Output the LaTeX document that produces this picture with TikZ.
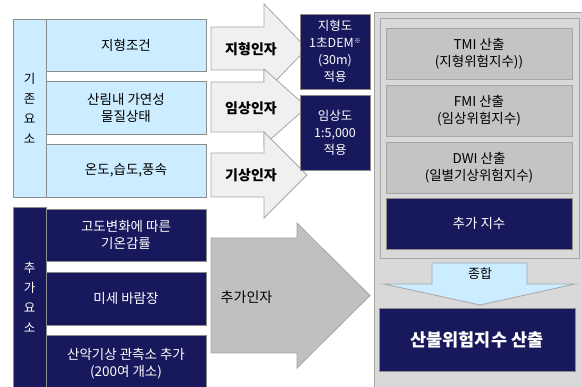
\documentclass[tikz,border=0pt]{standalone}
\usepackage{fontspec}
\setmainfont{Noto Sans CJK KR}
\definecolor{lightblue}{HTML}{CCECFF}
\definecolor{navy}{RGB}{24,24,92}
\definecolor{boxline}{HTML}{8C8C8C}
\definecolor{arrowfill}{HTML}{F0F0F0}
\definecolor{arrowline}{HTML}{A6A6A6}
\definecolor{contfill}{HTML}{D9D9D9}
\definecolor{cellfill}{HTML}{C4C4C4}
\definecolor{bigarrow}{HTML}{C0C0C0}
\begin{document}
\begin{tikzpicture}[x=1pt,y=-1pt,
  base/.style={anchor=north west, inner sep=0pt, outer sep=0pt, align=center, line width=0.8pt},
  lb/.style={base, draw=boxline, fill=lightblue, font=\fontsize{13.5}{17}\selectfont},
  db/.style={base, draw=boxline, fill=navy, text=white, font=\fontsize{13.5}{17}\selectfont},
  sdb/.style={base, draw=boxline, fill=navy, text=white, font=\fontsize{12.5}{17}\selectfont},
  gb/.style={base, draw=arrowline, fill=cellfill, font=\fontsize{13.5}{17}\selectfont},
  vert/.style={align=center, inner sep=0pt, font=\fontsize{12.5}{20}\selectfont},
  blockarrow/.style={draw=arrowline, fill=arrowfill, line width=0.8pt, line join=miter},
  lbl/.style={inner sep=0pt, font=\fontsize{14}{17}\selectfont\bfseries},
]
\useasboundingbox (0,0) rectangle (582,387);
\fill[white] (0,0) rectangle (582,387);

% left column: existing elements
\node[lb, minimum width=33pt, minimum height=178pt] (exist) at (13,19) {};
\node[vert] (existtxt) at (exist.center) {기\\존\\요\\소};
\node[lb, minimum width=160pt, minimum height=52pt] (terrain) at (46,19) {지형조건};
\node[lb, minimum width=160pt, minimum height=53pt] (forest) at (46,81) {산림내 가연성\\물질상태};
\node[lb, minimum width=160pt, minimum height=53pt] (weather) at (46,144) {온도,습도,풍속};

% left column: added elements
\node[db, minimum width=33pt, minimum height=185pt] (added) at (13,207) {};
\node[vert, text=white] (addedtxt) at (13+16.5,297) {추\\가\\요\\소};
\node[db, minimum width=160pt, minimum height=52pt] (lapse) at (46,209) {고도변화에 따른\\기온감률};
\node[db, minimum width=160pt, minimum height=53pt] (wind) at (46,272) {미세 바람장};
\node[db, minimum width=160pt, minimum height=57pt] (station) at (46,335) {산악기상 관측소 추가\\(200여 개소)};

% small block arrows
\draw[blockarrow] (211,27) -- (264,27) -- (264,4) -- (307,48.5) -- (264,93) -- (264,70) -- (211,70) -- cycle;
\node[lbl] (f1) at (251,49) {지형인자};
\draw[blockarrow] (211,82) -- (264,82) -- (264,69) -- (307,107) -- (264,145) -- (264,132) -- (211,132) -- cycle;
\node[lbl] (f2) at (251,108) {임상인자};
\draw[blockarrow] (211,153) -- (264,153) -- (264,132) -- (307,175) -- (264,218) -- (264,197) -- (211,197) -- cycle;
\node[lbl] (f3) at (251,175) {기상인자};

% big arrow
\draw[draw=arrowline, fill=bigarrow, line width=0.8pt] (211,238) -- (297,238) -- (297,223) -- (370,295.5) -- (297,368) -- (297,353) -- (211,353) -- cycle;
\node[inner sep=0pt, font=\fontsize{14}{17}\selectfont] (f4) at (246.5,297) {추가인자};

% map boxes
\node[sdb, minimum width=70pt, minimum height=75pt] (dem) at (300,14) {지형도\\1초DEM\raisebox{0.6ex}{\fontsize{7}{7}\selectfont ※}\\(30m)\\적용};
\node[sdb, minimum width=70pt, minimum height=75pt] (stand) at (300,95) {임상도\\1:5,000\\적용};

% right container
\node[base, draw=arrowline, fill=contfill, minimum width=212pt, minimum height=380pt] (cont) at (374,12) {};
\node[base, draw=arrowline, fill=contfill, minimum width=199pt, minimum height=240pt] (inner) at (380,18) {};
\node[gb, minimum width=186pt, minimum height=51pt] (tmi) at (386,28) {TMI 산출\\(지형위험지수))};
\node[gb, minimum width=186pt, minimum height=51pt] (fmi) at (386,85) {FMI 산출\\(임상위험지수)};
\node[gb, minimum width=186pt, minimum height=51pt] (dwi) at (386,142) {DWI 산출\\(일별기상위험지수)};
\node[db, minimum width=186pt, minimum height=51pt] (extra) at (386,198) {추가 지수};

% combine arrow
\draw[draw=arrowline, fill=lightblue, line width=0.8pt] (432,263) -- (527,263) -- (527,284) -- (575,284) -- (480,305) -- (384,284) -- (432,284) -- cycle;
\node[inner sep=0pt, font=\fontsize{13}{17}\selectfont] (comb) at (480,274) {종합};

\node[db, minimum width=196pt, minimum height=63pt, font=\fontsize{17.5}{20}\selectfont\bfseries] (final) at (379,308) {산불위험지수 산출};
\end{tikzpicture}
\end{document}
